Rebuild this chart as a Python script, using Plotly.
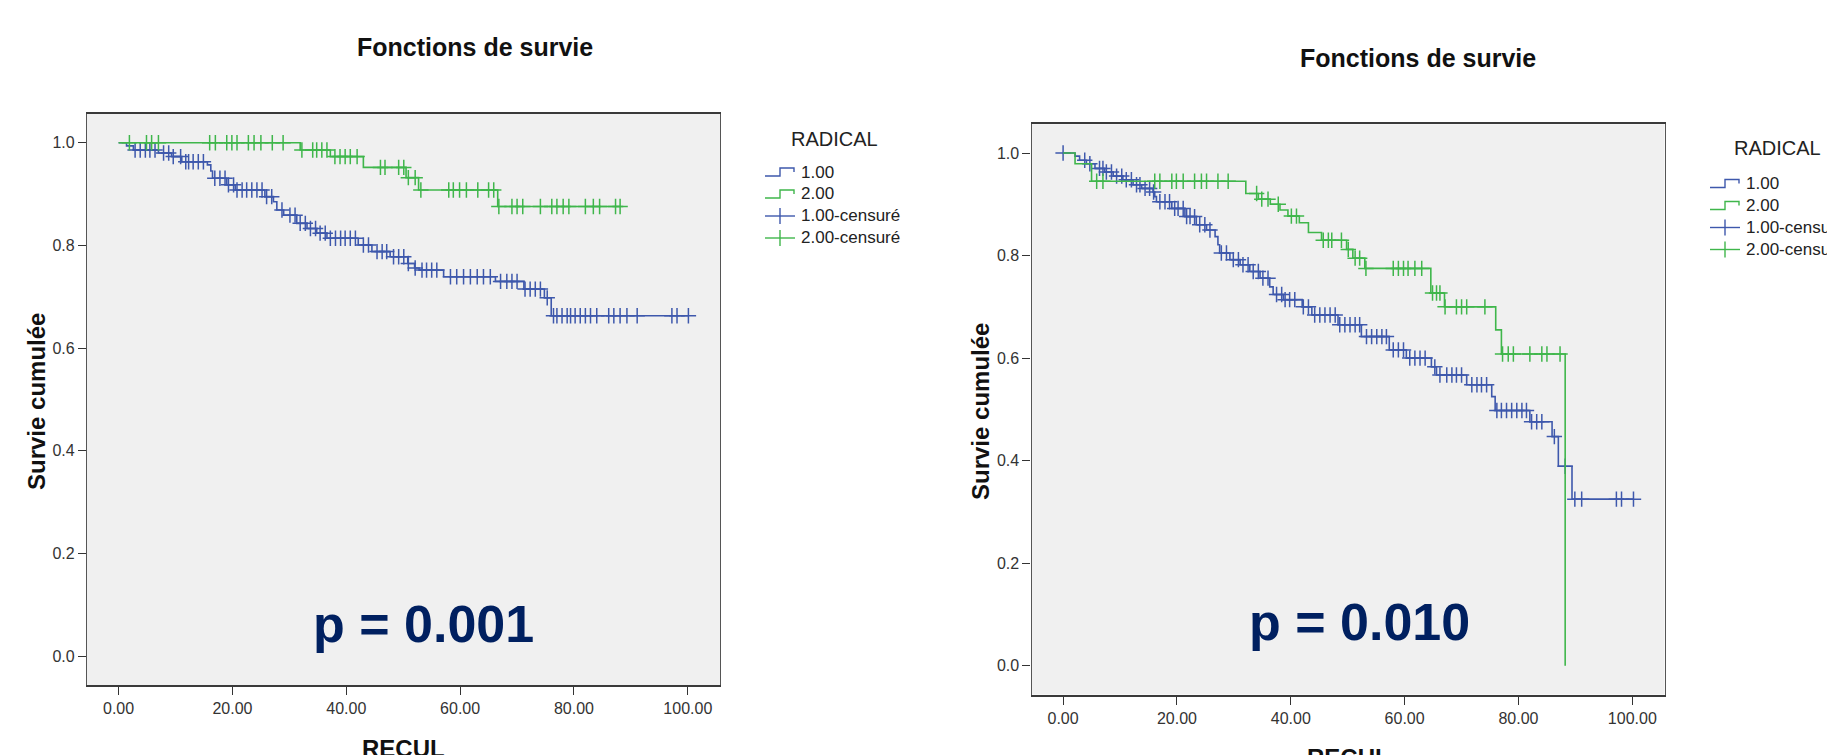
import numpy as np
import plotly.graph_objects as go

# ---------------- data ----------------
# Left panel (p = 0.001): Kaplan-Meier steps (time, survival after the event) and censored times
left_g1_event_t = [1.4, 2.6, 7.0, 9.3, 11.1, 15.6, 16.2, 16.5, 19.0, 20.5, 25.7, 27.2, 27.8, 29.0,
                   31.3, 33.1, 34.8, 36.6, 42.1, 44.5, 47.7, 50.8, 52.0, 52.8, 57.1, 66.2, 71.2,
                   74.8, 76.0]
left_g1_event_s = [0.994, 0.986, 0.980, 0.973, 0.963, 0.957, 0.945, 0.931, 0.918, 0.908, 0.895,
                   0.885, 0.869, 0.859, 0.843, 0.833, 0.824, 0.814, 0.801, 0.788, 0.778, 0.765,
                   0.756, 0.752, 0.739, 0.730, 0.715, 0.698, 0.663]
left_g1_censor_t = [2.9, 3.8, 4.7, 5.5, 6.4, 7.9, 8.8, 9.6, 10.9, 11.8, 12.3, 13.1, 14.0, 14.9,
                    16.9, 17.8, 18.7, 19.3, 20.2, 20.8, 21.7, 22.5, 23.4, 24.3, 25.2, 26.0, 26.9,
                    28.7, 30.1, 31.0, 31.9, 32.8, 33.7, 34.6, 35.4, 36.3, 37.2, 38.1, 39.0, 39.8,
                    40.7, 41.6, 43.0, 43.9, 45.4, 46.3, 47.1, 48.3, 49.2, 50.1, 50.9, 52.1, 53.3,
                    54.1, 55.0, 55.9, 58.3, 59.4, 60.6, 61.8, 63.0, 64.1, 65.3, 67.1, 68.2, 69.1,
                    70.0, 71.4, 72.3, 73.2, 74.1, 75.3, 76.4, 77.0, 77.9, 78.8, 79.4, 80.2, 81.1,
                    82.0, 82.9, 84.0, 86.1, 87.0, 88.1, 89.3, 91.1, 97.2, 98.1, 100.1]

left_g2_event_t = [31.9, 37.2, 43.0, 50.5, 52.7, 66.6]
left_g2_event_s = [0.986, 0.973, 0.952, 0.932, 0.908, 0.876]
left_g2_censor_t = [1.9, 4.9, 5.8, 7.0, 16.0, 17.0, 19.0, 19.9, 20.8, 22.8, 23.8, 25.0, 27.0, 28.9,
                    32.2, 34.1, 34.8, 35.7, 36.6, 38.0, 38.9, 39.8, 40.7, 41.9, 46.0, 46.8, 49.2,
                    50.1, 50.9, 52.1, 53.1, 58.0, 58.8, 59.9, 61.1, 63.1, 65.0, 65.9, 66.8, 69.1,
                    70.0, 71.0, 74.1, 76.1, 77.0, 78.1, 79.1, 82.0, 83.4, 84.5, 87.3, 88.1]

# Right panel (p = 0.010)
right_g1_event_t = [2.1, 2.9, 4.1, 5.6, 7.3, 8.8, 10.5, 12.3, 13.8, 15.8, 16.1, 16.4, 19.1, 21.4,
                    23.4, 25.2, 26.7, 27.2, 27.5, 29.3, 31.1, 32.8, 34.6, 36.3, 36.9, 38.7, 42.0,
                    43.7, 48.3, 52.4, 57.3, 60.3, 64.7, 65.6, 70.9, 75.3, 75.9, 82.0, 85.9, 87.0,
                    89.4]
right_g1_event_s = [0.994, 0.986, 0.979, 0.970, 0.963, 0.955, 0.948, 0.938, 0.931, 0.924, 0.915,
                    0.905, 0.892, 0.876, 0.860, 0.850, 0.837, 0.821, 0.805, 0.792, 0.782, 0.769,
                    0.756, 0.739, 0.724, 0.714, 0.700, 0.684, 0.665, 0.642, 0.616, 0.600, 0.583,
                    0.567, 0.548, 0.525, 0.498, 0.476, 0.447, 0.389, 0.325]
right_g1_censor_t = [0.0, 3.8, 4.7, 6.4, 7.0, 7.6, 8.5, 9.4, 10.3, 11.1, 12.0, 12.9, 13.5, 14.4,
                     15.2, 15.9, 17.0, 17.9, 18.7, 19.6, 20.2, 21.1, 21.7, 22.3, 23.1, 24.0, 24.9,
                     25.8, 27.8, 28.7, 29.9, 30.8, 31.6, 32.5, 33.4, 34.3, 35.1, 36.0, 37.5, 38.4,
                     39.0, 39.8, 40.7, 42.2, 43.1, 44.2, 45.1, 46.0, 46.9, 47.8, 48.6, 49.5, 50.4,
                     51.3, 52.1, 53.3, 54.2, 55.1, 56.0, 56.8, 58.0, 58.9, 59.8, 60.9, 61.8, 62.7,
                     63.6, 65.3, 66.2, 67.4, 68.3, 69.1, 70.0, 71.8, 72.7, 73.5, 74.4, 76.2, 77.0,
                     77.9, 78.8, 79.7, 80.6, 81.4, 82.3, 83.2, 84.1, 86.3, 88.2, 89.9, 91.1, 97.2,
                     98.1, 100.2]

right_g2_event_t = [2.1, 5.0, 32.1, 34.3, 36.4, 38.1, 39.5, 41.5, 43.1, 45.4, 49.8, 50.9, 53.0,
                    64.6, 67.0, 76.0, 77.0, 88.2]
right_g2_event_s = [0.979, 0.945, 0.921, 0.910, 0.900, 0.889, 0.877, 0.864, 0.845, 0.830, 0.812,
                    0.795, 0.775, 0.727, 0.700, 0.655, 0.608, 0.0]
right_g2_censor_t = [5.9, 7.0, 16.1, 17.0, 19.1, 19.9, 21.1, 23.1, 24.3, 25.2, 27.2, 29.0, 34.0,
                     34.9, 36.0, 37.8, 40.1, 41.0, 45.7, 46.6, 47.2, 48.9, 50.1, 51.3, 52.1, 53.2,
                     58.0, 58.9, 59.8, 60.6, 61.8, 63.0, 64.9, 65.6, 66.2, 67.1, 69.1, 70.0, 70.9,
                     74.1, 77.2, 78.2, 79.1, 82.0, 84.1, 85.0, 87.3]

p_values = ["p = 0.001", "p = 0.010"]
group_labels = ["1.00", "2.00", "1.00-censuré", "2.00-censuré"]

# ---------------- styling ----------------
W, H = 1827, 755
BLUE = "#3e58ac"
GREEN = "#3fb64b"
NAVY = "#002060"
FONT = "Liberation Sans, Arial, sans-serif"
X_RANGE = [-5.55, 105.65]
Y_RANGE = [-0.056, 1.056]


def px(x):
    return x / W


def py(y):
    return 1 - y / H


def km_step(event_t, event_s, censor_t):
    """Step curve coordinates and the survival level at each censored time."""
    et = np.asarray(event_t, float)
    es = np.asarray(event_s, float)
    ct = np.asarray(censor_t, float)
    end = max(et.max(), ct.max())
    xs = np.concatenate([[0.0], et, [end]])
    ys = np.concatenate([[1.0], es, [es[-1]]])
    idx = np.searchsorted(et, ct, side="right")
    cs = np.where(idx == 0, 1.0, es[np.maximum(idx - 1, 0)])
    return xs, ys, ct, cs


fig = go.Figure()

panels = [
    dict(xa="x", ya="y",
         groups=[(left_g1_event_t, left_g1_event_s, left_g1_censor_t, BLUE),
                 (left_g2_event_t, left_g2_event_s, left_g2_censor_t, GREEN)]),
    dict(xa="x2", ya="y2",
         groups=[(right_g1_event_t, right_g1_event_s, right_g1_censor_t, BLUE),
                 (right_g2_event_t, right_g2_event_s, right_g2_censor_t, GREEN)]),
]

for panel in panels:
    for et, es, ct, col in panel["groups"]:
        xs, ys, cx, cy = km_step(et, es, ct)
        fig.add_trace(go.Scatter(x=xs, y=ys, mode="lines", line=dict(color=col, width=1.6, shape="hv"),
                                 xaxis=panel["xa"], yaxis=panel["ya"], showlegend=False, hoverinfo="skip"))
        fig.add_trace(go.Scatter(x=cx, y=cy, mode="markers",
                                 marker=dict(symbol="cross-thin", size=11, line=dict(color=col, width=1.5)),
                                 xaxis=panel["xa"], yaxis=panel["ya"], showlegend=False, hoverinfo="skip"))

axis_common = dict(showgrid=False, zeroline=False, showline=True, mirror=True,
                   ticks="outside", ticklen=8, tickwidth=1.3, tickcolor="#333333",
                   tickfont=dict(family=FONT, size=16, color="#333333"))

fig.update_layout(
    width=W, height=H, autosize=False,
    margin=dict(l=0, r=0, t=0, b=0),
    paper_bgcolor="white", plot_bgcolor="#f0f0f0",
    xaxis=dict(domain=[px(87), px(720)], range=X_RANGE, tick0=0, dtick=20, tickformat=".2f",
               linecolor="#3a3a3a", linewidth=2, anchor="y", **axis_common),
    yaxis=dict(domain=[py(685), py(114)], range=Y_RANGE, tick0=0, dtick=0.2, tickformat=".1f",
               linecolor="#555555", linewidth=1.2, anchor="x", **axis_common),
    xaxis2=dict(domain=[px(1031.5), px(1664.5)], range=X_RANGE, tick0=0, dtick=20, tickformat=".2f",
                linecolor="#3a3a3a", linewidth=2, anchor="y2", **axis_common),
    yaxis2=dict(domain=[py(694.5), py(124.3)], range=Y_RANGE, tick0=0, dtick=0.2, tickformat=".1f",
                linecolor="#555555", linewidth=1.2, anchor="x2", **axis_common),
)

annotations = []
shapes = []


def text(x, y, s, size, bold=False, color="#222222", angle=0, xanchor="center"):
    annotations.append(dict(
        x=px(x), y=py(y), xref="paper", yref="paper", text=f"<b>{s}</b>" if bold else s,
        showarrow=False, xanchor=xanchor, yanchor="middle", textangle=angle,
        font=dict(family=FONT, size=size, color=color)))


# Titles, axis titles and p-values for both panels
text(475, 47, "Fonctions de survie", 25, bold=True, color="#111111")
text(1418, 58, "Fonctions de survie", 25, bold=True, color="#111111")
text(36, 402, "Survie cumulée", 24, bold=True, color="#111111", angle=-90)
text(980, 412, "Survie cumulée", 24, bold=True, color="#111111", angle=-90)
text(403.5, 748, "RECUL", 24, bold=True, color="#111111")
text(1348, 757, "RECUL", 24, bold=True, color="#111111")
text(423.5, 624, p_values[0], 52, bold=True, color=NAVY)
text(1359, 622, p_values[1], 52, bold=True, color=NAVY)


def legend(x0, title_x, title_y, rows_y):
    """Legend box: step glyphs for the curves, plus glyphs for censored marks."""
    text(title_x, title_y, "RADICAL", 20, color="#222222")
    cols = [BLUE, GREEN, BLUE, GREEN]
    for i, (yy, lab, col) in enumerate(zip(rows_y, group_labels, cols)):
        if i < 2:
            path = (f"M {px(x0)} {py(yy + 4)} L {px(x0 + 15)} {py(yy + 4)} L {px(x0 + 15)} {py(yy - 4)} "
                    f"L {px(x0 + 29)} {py(yy - 4)} L {px(x0 + 29)} {py(yy)}")
            shapes.append(dict(type="path", path=path, xref="paper", yref="paper",
                               line=dict(color=col, width=1.4)))
        else:
            shapes.append(dict(type="line", xref="paper", yref="paper", x0=px(x0), x1=px(x0 + 30),
                               y0=py(yy), y1=py(yy), line=dict(color=col, width=1.4)))
            shapes.append(dict(type="line", xref="paper", yref="paper", x0=px(x0 + 15), x1=px(x0 + 15),
                               y0=py(yy - 8), y1=py(yy + 8), line=dict(color=col, width=1.4)))
        text(x0 + 34, yy, lab, 17, color="#222222", xanchor="left")


legend(765, 834, 139, [172, 194, 216, 238])
legend(1710, 1777, 148, [183.5, 205.5, 227.5, 249.5])

fig.update_layout(annotations=annotations, shapes=shapes)

fig.write_html("out.html")
